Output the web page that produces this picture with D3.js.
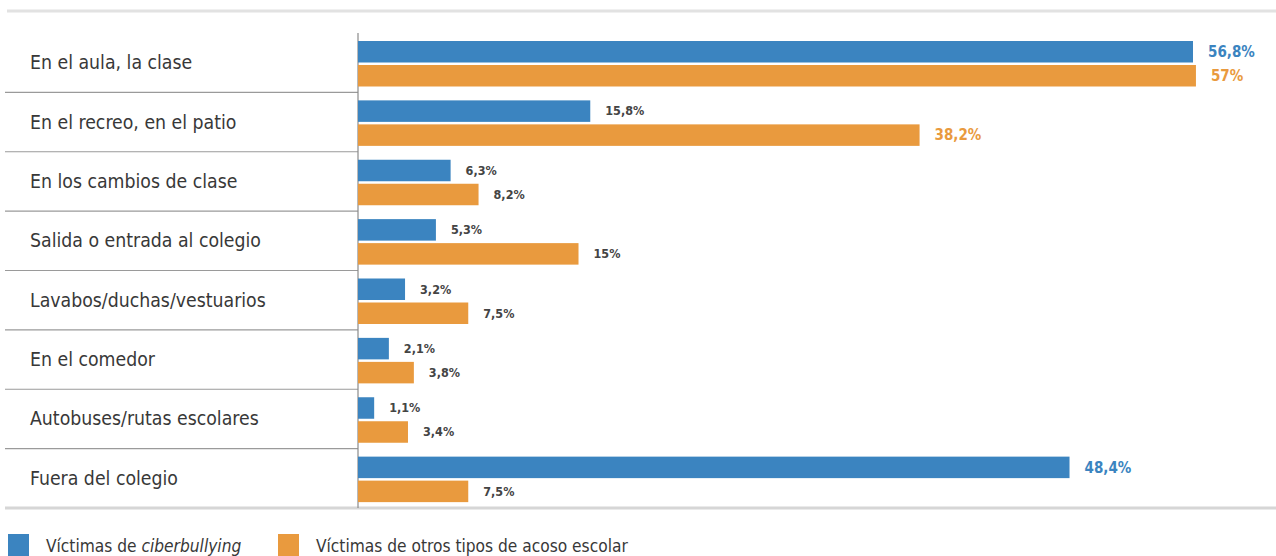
<!DOCTYPE html>
<html>
<head>
<meta charset="utf-8">
<script src="https://cdn.jsdelivr.net/npm/d3@7"></script>
<style>
body { margin: 0; background: #fff; }
text { font-family: "Liberation Sans Narrow", "DejaVu Sans Condensed", "Roboto", sans-serif; }
</style>
</head>
<body>
<svg id="chart" width="1276" height="556"></svg>
<script>
// datos del grafico
var lugares = ["En el aula, la clase", "En el recreo, en el patio", "En los cambios de clase",
	"Salida o entrada al colegio", "Lavabos/duchas/vestuarios", "En el comedor",
	"Autobuses/rutas escolares", "Fuera del colegio"];
var ciber = [56.8, 15.8, 6.3, 5.3, 3.2, 2.1, 1.1, 48.4];
var otros = [57, 38.2, 8.2, 15, 7.5, 3.8, 3.4, 7.5];
var etiquetasCiber = ["56,8%", "15,8%", "6,3%", "5,3%", "3,2%", "2,1%", "1,1%", "48,4%"];
var etiquetasOtros = ["57%", "38,2%", "8,2%", "15%", "7,5%", "3,8%", "3,4%", "7,5%"];
var series = ["Víctimas de ", "Víctimas de otros tipos de acoso escolar"];

var azul = "#3b84c0", naranja = "#e99a3e";
var svg = d3.select("#chart");

var x = d3.scaleLinear().domain([0, 56.8]).range([358, 1193]);
var y = d3.scaleBand().domain(lugares).range([33, 508]);

// lineas de arriba y abajo
svg.append("line").attr("x1", 7).attr("x2", 1276).attr("y1", 11).attr("y2", 11)
	.attr("stroke", "#e2e2e2").attr("stroke-width", 3);
svg.append("line").attr("x1", 5).attr("x2", 1276).attr("y1", 508).attr("y2", 508)
	.attr("stroke", "#d6d6d6").attr("stroke-width", 3);

// separadores entre filas
svg.selectAll(".sep").data(lugares.slice(1)).enter().append("line")
	.attr("x1", 5).attr("x2", 358)
	.attr("y1", function(d){ return y(d); }).attr("y2", function(d){ return y(d); })
	.attr("stroke", "#9a9a9a").attr("stroke-width", 1.2);

svg.append("line").attr("x1", 358).attr("x2", 358).attr("y1", 33).attr("y2", 508)
	.attr("stroke", "#8a8a8a").attr("stroke-width", 1.2);

// etiquetas de categoria
svg.selectAll(".cat").data(lugares).enter().append("text")
	.attr("x", 30).attr("y", function(d){ return y(d) + y.bandwidth()/2 + 6.5; })
	.attr("font-size", 19.3).attr("fill", "#383838").text(function(d){ return d; });

var h = 21.5;
function dibujar(valores, etiquetas, off, color){
	svg.selectAll(null).data(valores).enter().append("rect")
		.attr("x", x(0)).attr("y", function(d, i){ return y(lugares[i]) + off; })
		.attr("width", function(d){ return x(d) - x(0); }).attr("height", h)
		.attr("fill", color);
	svg.selectAll(null).data(valores).enter().append("text")
		.attr("x", function(d){ return x(d) + 15; })
		.attr("y", function(d, i){ return y(lugares[i]) + off + (d > 30 ? 16 : 15); })
		.attr("font-size", function(d){ return d > 30 ? 15 : 12.5; })
		.attr("font-weight", "bold")
		.attr("fill", function(d){ return d > 30 ? color : "#444"; })
		.text(function(d, i){ return etiquetas[i]; });
}
dibujar(ciber, etiquetasCiber, 8, azul);
dibujar(otros, etiquetasOtros, 32, naranja);

// leyenda
svg.append("rect").attr("x", 8).attr("y", 534).attr("width", 21).attr("height", 22).attr("fill", azul);
svg.append("rect").attr("x", 278).attr("y", 534).attr("width", 21).attr("height", 22).attr("fill", naranja);
var t1 = svg.append("text").attr("x", 46).attr("y", 552).attr("font-size", 17.2).attr("fill", "#383838");
t1.append("tspan").text(series[0]);
t1.append("tspan").attr("font-style", "italic").text("ciberbullying");
svg.append("text").attr("x", 316).attr("y", 552).attr("font-size", 17.2).attr("fill", "#383838").text(series[1]);
</script>
</body>
</html>
